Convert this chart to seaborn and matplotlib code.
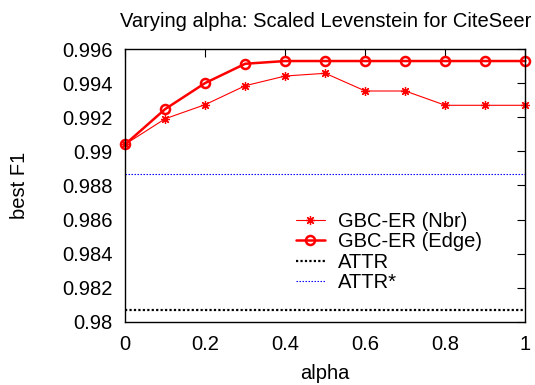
import matplotlib
matplotlib.use("Agg")
import matplotlib.pyplot as plt
import seaborn as sns
import pandas as pd
from matplotlib.ticker import FuncFormatter, FixedLocator

sns.set_theme(style="white")
plt.rcParams['font.family'] = ['Liberation Sans', 'DejaVu Sans']

alpha = [0.0, 0.1, 0.2, 0.3, 0.4, 0.5, 0.6, 0.7, 0.8, 0.9, 1.0]
nbr = [0.99042, 0.99192, 0.99275, 0.99386, 0.99443, 0.99459, 0.99355, 0.99355, 0.99271, 0.99271, 0.99271]
edge = [0.99042, 0.99249, 0.99402, 0.99515, 0.99531, 0.99531, 0.99531, 0.99531, 0.99531, 0.99531, 0.99531]
attr = 0.98069
attr_star = 0.98869
x_ticks = [0, 0.2, 0.4, 0.6, 0.8, 1]
y_ticks = [0.98, 0.982, 0.984, 0.986, 0.988, 0.99, 0.992, 0.994, 0.996]

df_nbr = pd.DataFrame({"alpha": alpha, "f1": nbr})
df_edge = pd.DataFrame({"alpha": alpha, "f1": edge})

FS = 14.5
fig = plt.figure(figsize=(5.35, 3.85), dpi=100)
ax = fig.add_axes([0.234, 0.1644, 0.748, 0.7076])

sns.lineplot(data=df_nbr, x="alpha", y="f1", ax=ax, color="#ff0000", lw=0.8,
             marker=(8, 2, 0), markersize=6.5, markeredgewidth=0.9, markeredgecolor="#ff0000",
             label="GBC-ER (Nbr)", clip_on=False)
sns.lineplot(data=df_edge, x="alpha", y="f1", ax=ax, color="#ff0000", lw=1.8,
             marker="o", markersize=6.5, markerfacecolor="none", markeredgewidth=1.8,
             markeredgecolor="#ff0000", label="GBC-ER (Edge)", clip_on=False)
ax.axhline(attr, color="black", lw=1.6, ls=(0, (1.0, 1.0)), label="ATTR")
ax.axhline(attr_star, color="#0000ff", lw=0.8, ls=(0, (1.3, 1.4)), label="ATTR*")

ax.set_xlim(0, 1)
ax.set_ylim(0.98, 0.996)
ax.xaxis.set_major_locator(FixedLocator(x_ticks))
ax.yaxis.set_major_locator(FixedLocator(y_ticks))
ax.xaxis.set_major_formatter(FuncFormatter(lambda v, p: f"{round(v, 6):g}"))
ax.yaxis.set_major_formatter(FuncFormatter(lambda v, p: f"{round(v, 6):g}"))
ax.tick_params(direction="in", length=6, width=0.8, top=True, right=True,
               labelsize=FS, colors="black")
ax.tick_params(axis="x", pad=9.5)
ax.tick_params(axis="y", pad=9)
for s in ax.spines.values():
    s.set_color("black")
    s.set_linewidth(1.0)

ax.set_xlabel("alpha", fontsize=FS, color="black", labelpad=7)
ax.set_ylabel("best F1", fontsize=FS, color="black", labelpad=24)
ax.set_title("Varying alpha: Scaled Levenstein for CiteSeer", fontsize=FS, color="black", pad=16)

leg = ax.legend(loc="upper left", bbox_to_anchor=(0.4265, 0.404), frameon=False, fontsize=FS,
                handlelength=1.45, handletextpad=0.65, labelspacing=0.075, borderpad=0,
                borderaxespad=0)
for t in leg.get_texts():
    t.set_color("black")

fig.savefig("out.png", dpi=100)
